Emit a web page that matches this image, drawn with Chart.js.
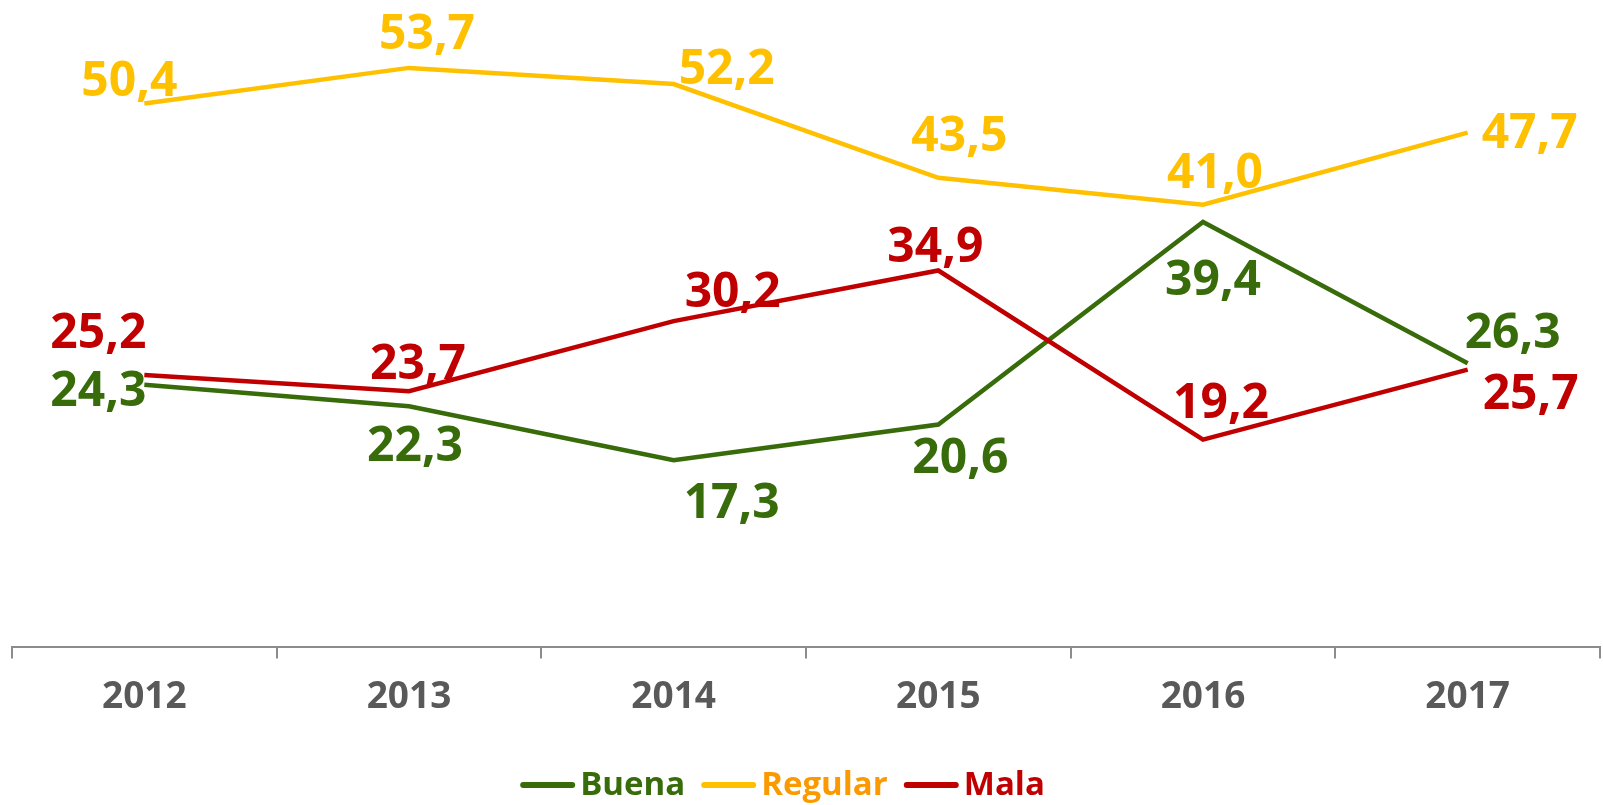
<!DOCTYPE html>
<html>
<head>
<meta charset="utf-8">
<script src="https://cdn.jsdelivr.net/npm/chart.js@4"></script>
<style>
  html, body { margin: 0; padding: 0; background: #fff; }
  #wrap { width: 1603px; height: 805px; }
</style>
</head>
<body>
<div id="wrap"><canvas id="chart"></canvas></div>
<script>
const years = ['2012', '2013', '2014', '2015', '2016', '2017'];
const buena = [24.3, 22.3, 17.3, 20.6, 39.4, 26.3];
const regular = [50.4, 53.7, 52.2, 43.5, 41.0, 47.7];
const mala = [25.2, 23.7, 30.2, 34.9, 19.2, 25.7];

// where each value label sits relative to its point (center offset, px)
const labelOffsets = {
    Buena:   [[-46, 6], [6, 39], [58, 42], [22, 33], [10, 57], [45, -31]],
    Regular: [[-15, -23], [18, -35], [53, -16], [21, -42], [12, -32], [62, 0]],
    Mala:    [[-46, -43], [9, -28], [59, -30], [-3, -24], [18, -37], [63, 24]]
};

const FONT = '"Open Sans", "DejaVu Sans", sans-serif';

const valueLabels = {
    id: 'valueLabels',
    afterDatasetsDraw(chart) {
        const ctx = chart.ctx;
        ctx.save();
        ctx.font = 'bold 48px ' + FONT;
        ctx.textAlign = 'center';
        ctx.textBaseline = 'middle';
        chart.data.datasets.forEach((ds, i) => {
            const meta = chart.getDatasetMeta(i);
            const offs = labelOffsets[ds.label];
            meta.data.forEach((pt, j) => {
                const txt = ds.data[j].toFixed(1).replace('.', ',');
                ctx.fillStyle = ds.borderColor;
                ctx.fillText(txt, pt.x + offs[j][0], pt.y + offs[j][1] + 2);
            });
        });
        ctx.restore();
    }
};

const bottomLegend = {
    id: 'bottomLegend',
    afterDraw(chart) {
        const ctx = chart.ctx;
        const lineLen = 55, gapText = 5, gapItem = 16, y = 785;
        ctx.save();
        ctx.font = 'bold 33px ' + FONT;
        ctx.textBaseline = 'middle';
        const items = chart.data.datasets.map(ds => ({
            text: ds.label,
            line: ds.borderColor,
            color: ds.legendColor,
            w: ctx.measureText(ds.label).width
        }));
        let total = 0;
        items.forEach((it, i) => {
            total += lineLen + gapText + it.w + (i ? gapItem : 0);
        });
        let x = (chart.width - total) / 2 - 19;
        items.forEach(it => {
            ctx.strokeStyle = it.line;
            ctx.lineWidth = 6;
            ctx.lineCap = 'round';
            ctx.beginPath();
            ctx.moveTo(x + 3, y);
            ctx.lineTo(x + lineLen - 3, y);
            ctx.stroke();
            ctx.fillStyle = it.color;
            ctx.fillText(it.text, x + lineLen + gapText, y + 1);
            x += lineLen + gapText + it.w + gapItem;
        });
        ctx.restore();
    }
};

new Chart(document.getElementById('chart'), {
    type: 'line',
    data: {
        labels: years,
        datasets: [
            { label: 'Buena', data: buena, borderColor: '#386b0a', legendColor: '#386b0a', borderWidth: 4.5, order: 2 },
            { label: 'Regular', data: regular, borderColor: '#ffc000', legendColor: '#fb9a00', borderWidth: 4.5, order: 1 },
            { label: 'Mala', data: mala, borderColor: '#c00000', legendColor: '#c00000', borderWidth: 4.5, order: 0 }
        ]
    },
    options: {
        responsive: true,
        maintainAspectRatio: false,
        animation: false,
        layout: { padding: { left: 12, right: 3, top: -8, bottom: 68 } },
        elements: {
            line: { tension: 0, borderJoinStyle: 'miter', fill: false },
            point: { radius: 0, hoverRadius: 0 }
        },
        plugins: {
            legend: { display: false },
            tooltip: { enabled: false }
        },
        scales: {
            x: {
                offset: true,
                grid: {
                    offset: true,
                    drawOnChartArea: false,
                    drawTicks: true,
                    tickLength: 12,
                    color: '#8c8c8c',
                    lineWidth: 2
                },
                border: { color: '#8c8c8c', width: 2 },
                ticks: {
                    color: '#595959',
                    padding: 17,
                    font: { family: FONT, size: 37, weight: 'bold' }
                }
            },
            y: {
                display: false,
                min: 0,
                max: 60
            }
        }
    },
    plugins: [valueLabels, bottomLegend]
});
</script>
</body>
</html>
